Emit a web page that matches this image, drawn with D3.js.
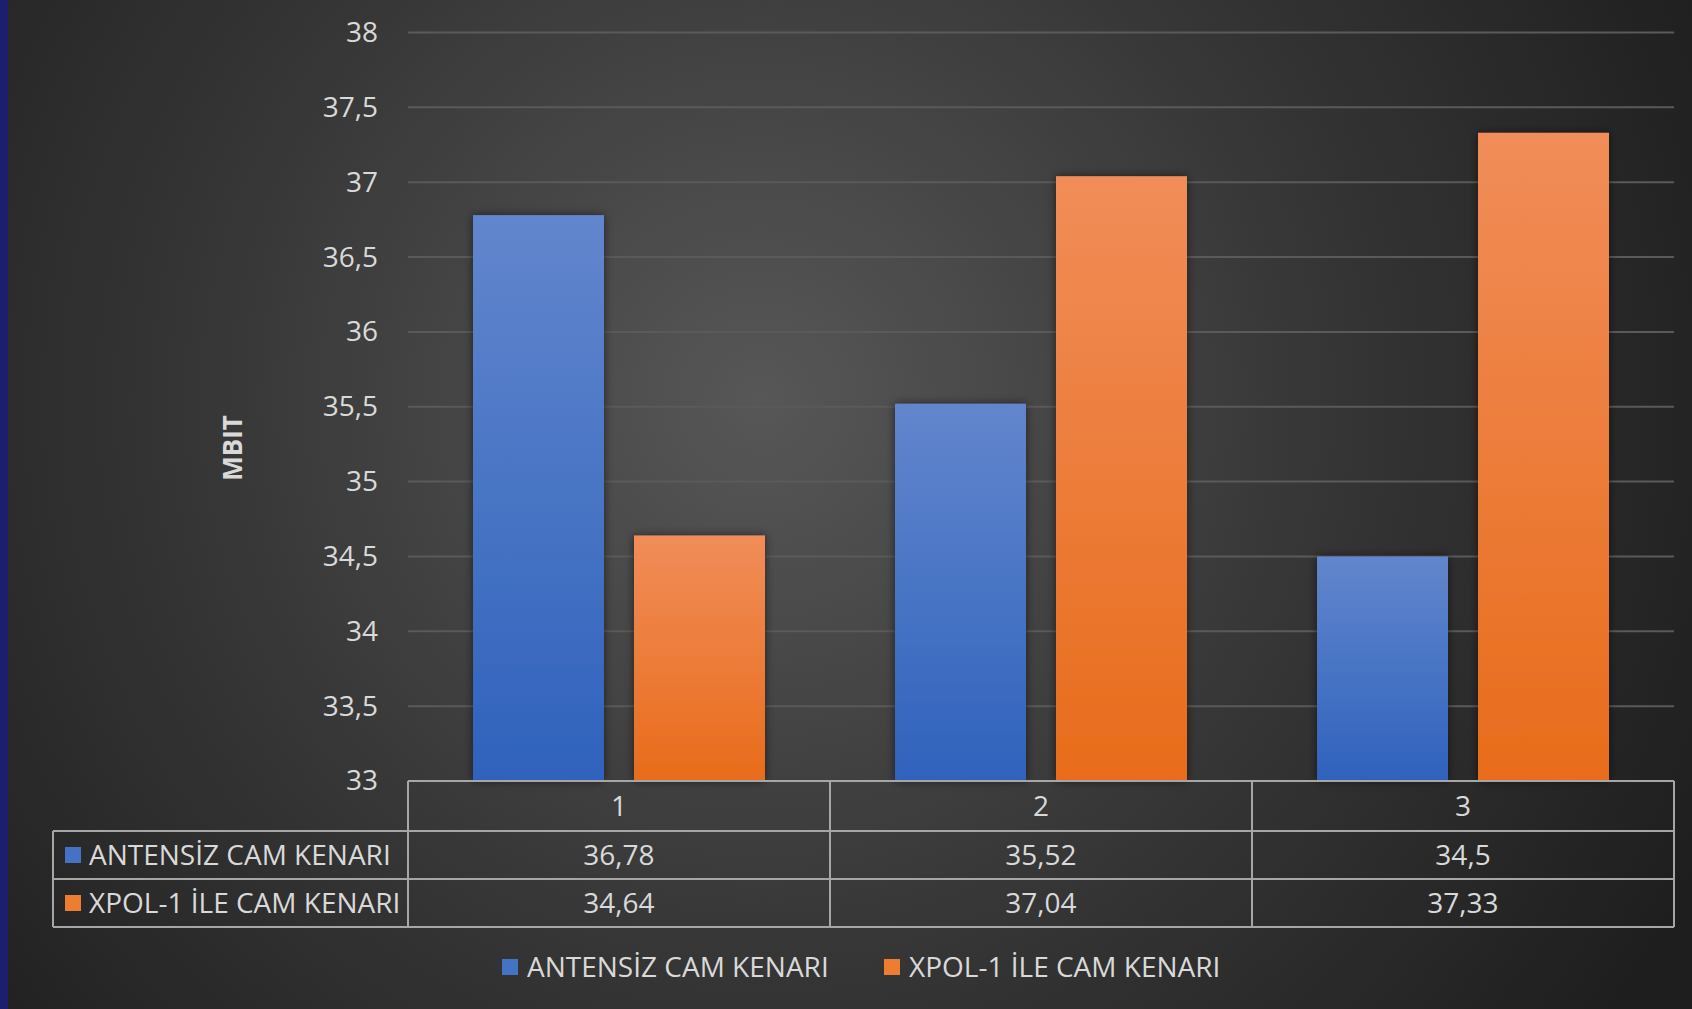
<!DOCTYPE html>
<html><head><meta charset="utf-8">
<script src="https://cdn.jsdelivr.net/npm/d3@7"></script>
<style>html,body{margin:0;padding:0;background:#222;overflow:hidden}</style>
</head><body><svg id="c" width="1692" height="1009"></svg>
<script>
const categories = ["1", "2", "3"];
const seriesNames = ["ANTENSİZ CAM KENARI", "XPOL-1 İLE CAM KENARI"];
const antensiz = [36.78, 35.52, 34.5];
const xpol = [34.64, 37.04, 37.33];
const yTicks = [33, 33.5, 34, 34.5, 35, 35.5, 36, 36.5, 37, 37.5, 38];
const axisTitle = "MBIT";

(function(){
const W = 1692, H = 1009;
const fmt = v => String(v).replace(".", ",");
const svg = d3.select("#c");
const defs = svg.append("defs");
const font = "'Open Sans', 'Noto Sans', sans-serif";
const txt = "#d9d9d9";

// background
const bg = defs.append("radialGradient").attr("id","bg").attr("gradientUnits","userSpaceOnUse")
  .attr("cx",760).attr("cy",400).attr("r",1050);
bg.append("stop").attr("offset",0).attr("stop-color","#575757");
bg.append("stop").attr("offset",0.55).attr("stop-color","#353535");
bg.append("stop").attr("offset",1).attr("stop-color","#1e1e1e");
svg.append("rect").attr("width",W).attr("height",H).attr("fill","url(#bg)");
svg.append("rect").attr("width",8).attr("height",H).attr("fill","#1b1f6e");

const colors = [
  {id:"gb", top:"#6286cd", bot:"#2f62bc", solid:"#4472c4"},
  {id:"go", top:"#f18d59", bot:"#e86c1b", solid:"#ed7d31"}
];
colors.forEach(c=>{
  const g = defs.append("linearGradient").attr("id",c.id).attr("x1",0).attr("y1",0).attr("x2",0).attr("y2",1);
  g.append("stop").attr("offset",0).attr("stop-color",c.top);
  g.append("stop").attr("offset",1).attr("stop-color",c.bot);
});
const f = defs.append("filter").attr("id","sh").attr("x","-20%").attr("y","-20%").attr("width","140%").attr("height","140%");
f.append("feDropShadow").attr("dx",0).attr("dy",0).attr("stdDeviation",5).attr("flood-color","#000").attr("flood-opacity",0.55);

const pLeft = 408, pRight = 1674, pTop = 32.5, pBottom = 781;
const y = d3.scaleLinear().domain([33,38]).range([pBottom, pTop]);
const x0 = d3.scaleBand().domain(categories).range([pLeft,pRight]).paddingInner(0).paddingOuter(0);
const x1 = d3.scaleBand().domain([0,1]).range([65, x0.bandwidth()-65]).paddingInner(30/161);

// gridlines
svg.append("g").selectAll("line").data(yTicks.slice(1)).join("line")
  .attr("x1",pLeft).attr("x2",pRight).attr("y1",d=>y(d)).attr("y2",d=>y(d))
  .attr("stroke","#5a5a5a").attr("stroke-width",2);

// y axis
const yAxis = svg.append("g").attr("transform",`translate(${pLeft},0)`)
  .call(d3.axisLeft(y).tickValues(yTicks).tickFormat(fmt).tickSize(0).tickPadding(30));
yAxis.select(".domain").remove();
yAxis.selectAll("text").attr("fill",txt).style("font-family",font).style("font-size","28px");

svg.append("text").attr("transform","translate(242,448) rotate(-90)")
  .attr("text-anchor","middle").attr("fill",txt).style("font-family",font)
  .style("font-size","26px").style("font-weight","bold").text(axisTitle);

// bars
const series = [antensiz, xpol];
series.forEach((vals,si)=>{
  svg.append("g").selectAll("rect").data(vals).join("rect")
    .attr("x",(d,i)=>x0(categories[i])+x1(si)).attr("width",x1.bandwidth())
    .attr("y",d=>y(d)).attr("height",d=>y(33)-y(d))
    .attr("fill",`url(#${colors[si].id})`).attr("filter","url(#sh)");
});

// data table
const tLeft = 53;
const rows = [781, 831, 879, 927];
const tbl = svg.append("g").attr("stroke","#a6a6a6").attr("stroke-width",2);
tbl.append("line").attr("x1",pLeft).attr("x2",pRight).attr("y1",rows[0]).attr("y2",rows[0]);
rows.slice(1).forEach(r=>tbl.append("line").attr("x1",tLeft).attr("x2",pRight).attr("y1",r).attr("y2",r));
tbl.append("line").attr("x1",tLeft).attr("x2",tLeft).attr("y1",rows[1]).attr("y2",rows[3]);
[pLeft, ...categories.map(c=>x0(c)+x0.bandwidth())].forEach(xv=>
  tbl.append("line").attr("x1",xv).attr("x2",xv).attr("y1",rows[0]).attr("y2",rows[3]));

const tt = svg.append("g").style("font-family",font).style("font-size","28px").attr("fill",txt);
categories.forEach(c=>{
  tt.append("text").attr("x",x0(c)+x0.bandwidth()/2).attr("y",(rows[0]+rows[1])/2).attr("dy","0.35em")
    .attr("text-anchor","middle").text(c);
});
series.forEach((vals,si)=>{
  const cy = (rows[si+1]+rows[si+2])/2;
  tt.append("rect").attr("x",65).attr("y",cy-8).attr("width",16).attr("height",16).attr("fill",colors[si].solid);
  tt.append("text").attr("x",89).attr("y",cy).attr("dy","0.35em").text(seriesNames[si]);
  vals.forEach((v,i)=>{
    tt.append("text").attr("x",x0(categories[i])+x0.bandwidth()/2).attr("y",cy).attr("dy","0.35em")
      .attr("text-anchor","middle").text(fmt(v));
  });
});

// legend
const lg = svg.append("g").style("font-family",font).style("font-size","28px").attr("fill",txt);
const legX = [502, 884];
seriesNames.forEach((n,si)=>{
  lg.append("rect").attr("x",legX[si]).attr("y",959).attr("width",16).attr("height",16).attr("fill",colors[si].solid);
  lg.append("text").attr("x",legX[si]+25).attr("y",967).attr("dy","0.35em").text(n);
});
})();
</script></body></html>
